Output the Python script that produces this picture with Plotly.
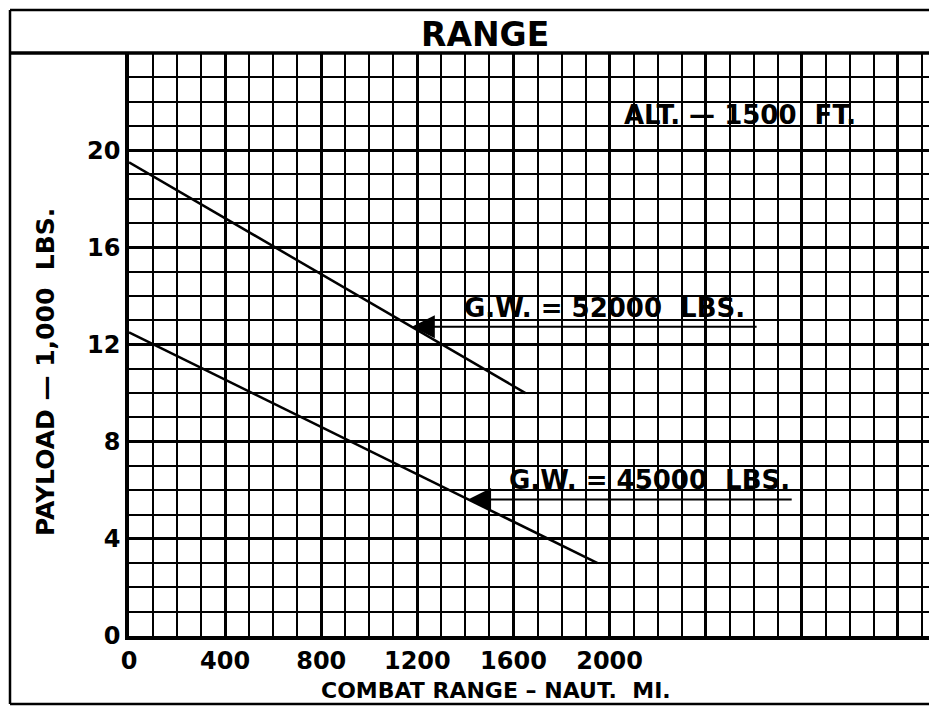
import plotly.graph_objects as go

# ---- data ----
range_52000 = [0, 1650]          # combat range, naut. mi.
payload_52000 = [19.5, 10.0]     # payload, 1,000 lbs
range_45000 = [0, 1950]
payload_45000 = [12.5, 3.0]

x_tickvals = [0, 400, 800, 1200, 1600, 2000, 2400, 2800, 3200]
x_ticktext = ["0", "400", "800", "1200", "1600", "2000", "", "", ""]
y_tickvals = [0, 4, 8, 12, 16, 20, 24]
y_ticktext = ["0", "4", "8", "12", "16", "20", ""]

FONT = "DejaVu Sans"
OFF = 8                      # page body margin
W, H = 937 - OFF, 706 - OFF
L, R, T, B = 129 - OFF, 0, 53 - OFF, 70
pw, ph = W - L - R, H - T - B


def px_x(p):                 # page pixel -> paper x
    return (p - OFF - L) / pw


def px_y(p):                 # page pixel -> paper y
    return (H - B - (p - OFF)) / ph


def bold(s):
    return "<b>" + s + "</b>"


fig = go.Figure()
line_style = dict(color="black", width=2.5)
fig.add_trace(go.Scatter(x=range_52000, y=payload_52000, mode="lines", line=line_style,
                         showlegend=False, hoverinfo="skip"))
fig.add_trace(go.Scatter(x=range_45000, y=payload_45000, mode="lines", line=line_style,
                         showlegend=False, hoverinfo="skip"))

annotations = []
# arrows
for tip, tail, yv in [(1177, 2618, 12.73), (1411, 2764, 5.62)]:
    annotations.append(dict(x=tip, y=yv, ax=tail, ay=yv, xref="x", yref="y", axref="x", ayref="y",
                            text="", showarrow=True, arrowhead=2, arrowsize=2.3, arrowwidth=2,
                            arrowcolor="black"))
center = dict(xanchor="center", yanchor="middle", showarrow=False)
annotations += [
    dict(x=1977, y=13.5, xref="x", yref="y", text=bold("G.W. = 52000  LBS."),
         font=dict(family=FONT, size=26, color="black"), **center),
    dict(x=2168, y=6.42, xref="x", yref="y", text=bold("G.W. = 45000  LBS."),
         font=dict(family=FONT, size=26, color="black"), **center),
    dict(x=2543, y=21.45, xref="x", yref="y", text=bold("ALT. — 1500  FT."),
         font=dict(family=FONT, size=26, color="black"), **center),
    dict(x=px_x(485), y=px_y(35), xref="paper", yref="paper", text=bold("RANGE"),
         font=dict(family=FONT, size=33, color="black"), **center),
    dict(x=px_x(496), y=px_y(690), xref="paper", yref="paper", text=bold("COMBAT RANGE – NAUT.  MI."),
         font=dict(family=FONT, size=22, color="black"), **center),
    dict(x=px_x(45), y=px_y(372), xref="paper", yref="paper", text=bold("PAYLOAD — 1,000  LBS."),
         textangle=-90, font=dict(family=FONT, size=25, color="black"), **center),
]

shapes = [
    # outer frame (left, top, bottom)
    dict(type="line", xref="paper", yref="paper", x0=px_x(10), x1=px_x(10), y0=px_y(10), y1=px_y(704),
         line=dict(color="black", width=2.5)),
    dict(type="line", xref="paper", yref="paper", x0=px_x(10), x1=1, y0=px_y(10), y1=px_y(10),
         line=dict(color="black", width=2.5)),
    dict(type="line", xref="paper", yref="paper", x0=px_x(10), x1=1, y0=px_y(704), y1=px_y(704),
         line=dict(color="black", width=2.5)),
    # title band separator
    dict(type="line", xref="paper", yref="paper", x0=px_x(10), x1=1, y0=1, y1=1,
         line=dict(color="black", width=3.5)),
]

axis_common = dict(showline=True, linecolor="black", linewidth=3.5, zeroline=False,
                   showgrid=True, gridcolor="black", gridwidth=2.6, ticks="",
                   tickfont=dict(family=FONT, size=24, color="black"), fixedrange=True)

fig.update_layout(
    width=W, height=H,
    margin=dict(l=L, r=R, t=T, b=B),
    paper_bgcolor="white", plot_bgcolor="white",
    xaxis=dict(range=[0, pw / 0.2403], tickmode="array", tickvals=x_tickvals,
               ticktext=[bold(t) if t else t for t in x_ticktext],
               minor=dict(dtick=100, showgrid=True, gridcolor="black", gridwidth=1.6),
               **axis_common),
    yaxis=dict(range=[0, 24], tickmode="array", tickvals=y_tickvals,
               ticktext=[bold(t) if t else t for t in y_ticktext],
               minor=dict(dtick=1, showgrid=True, gridcolor="black", gridwidth=1.6),
               **axis_common),
    annotations=annotations,
    shapes=shapes,
    showlegend=False,
)

fig.write_html("out.html")
